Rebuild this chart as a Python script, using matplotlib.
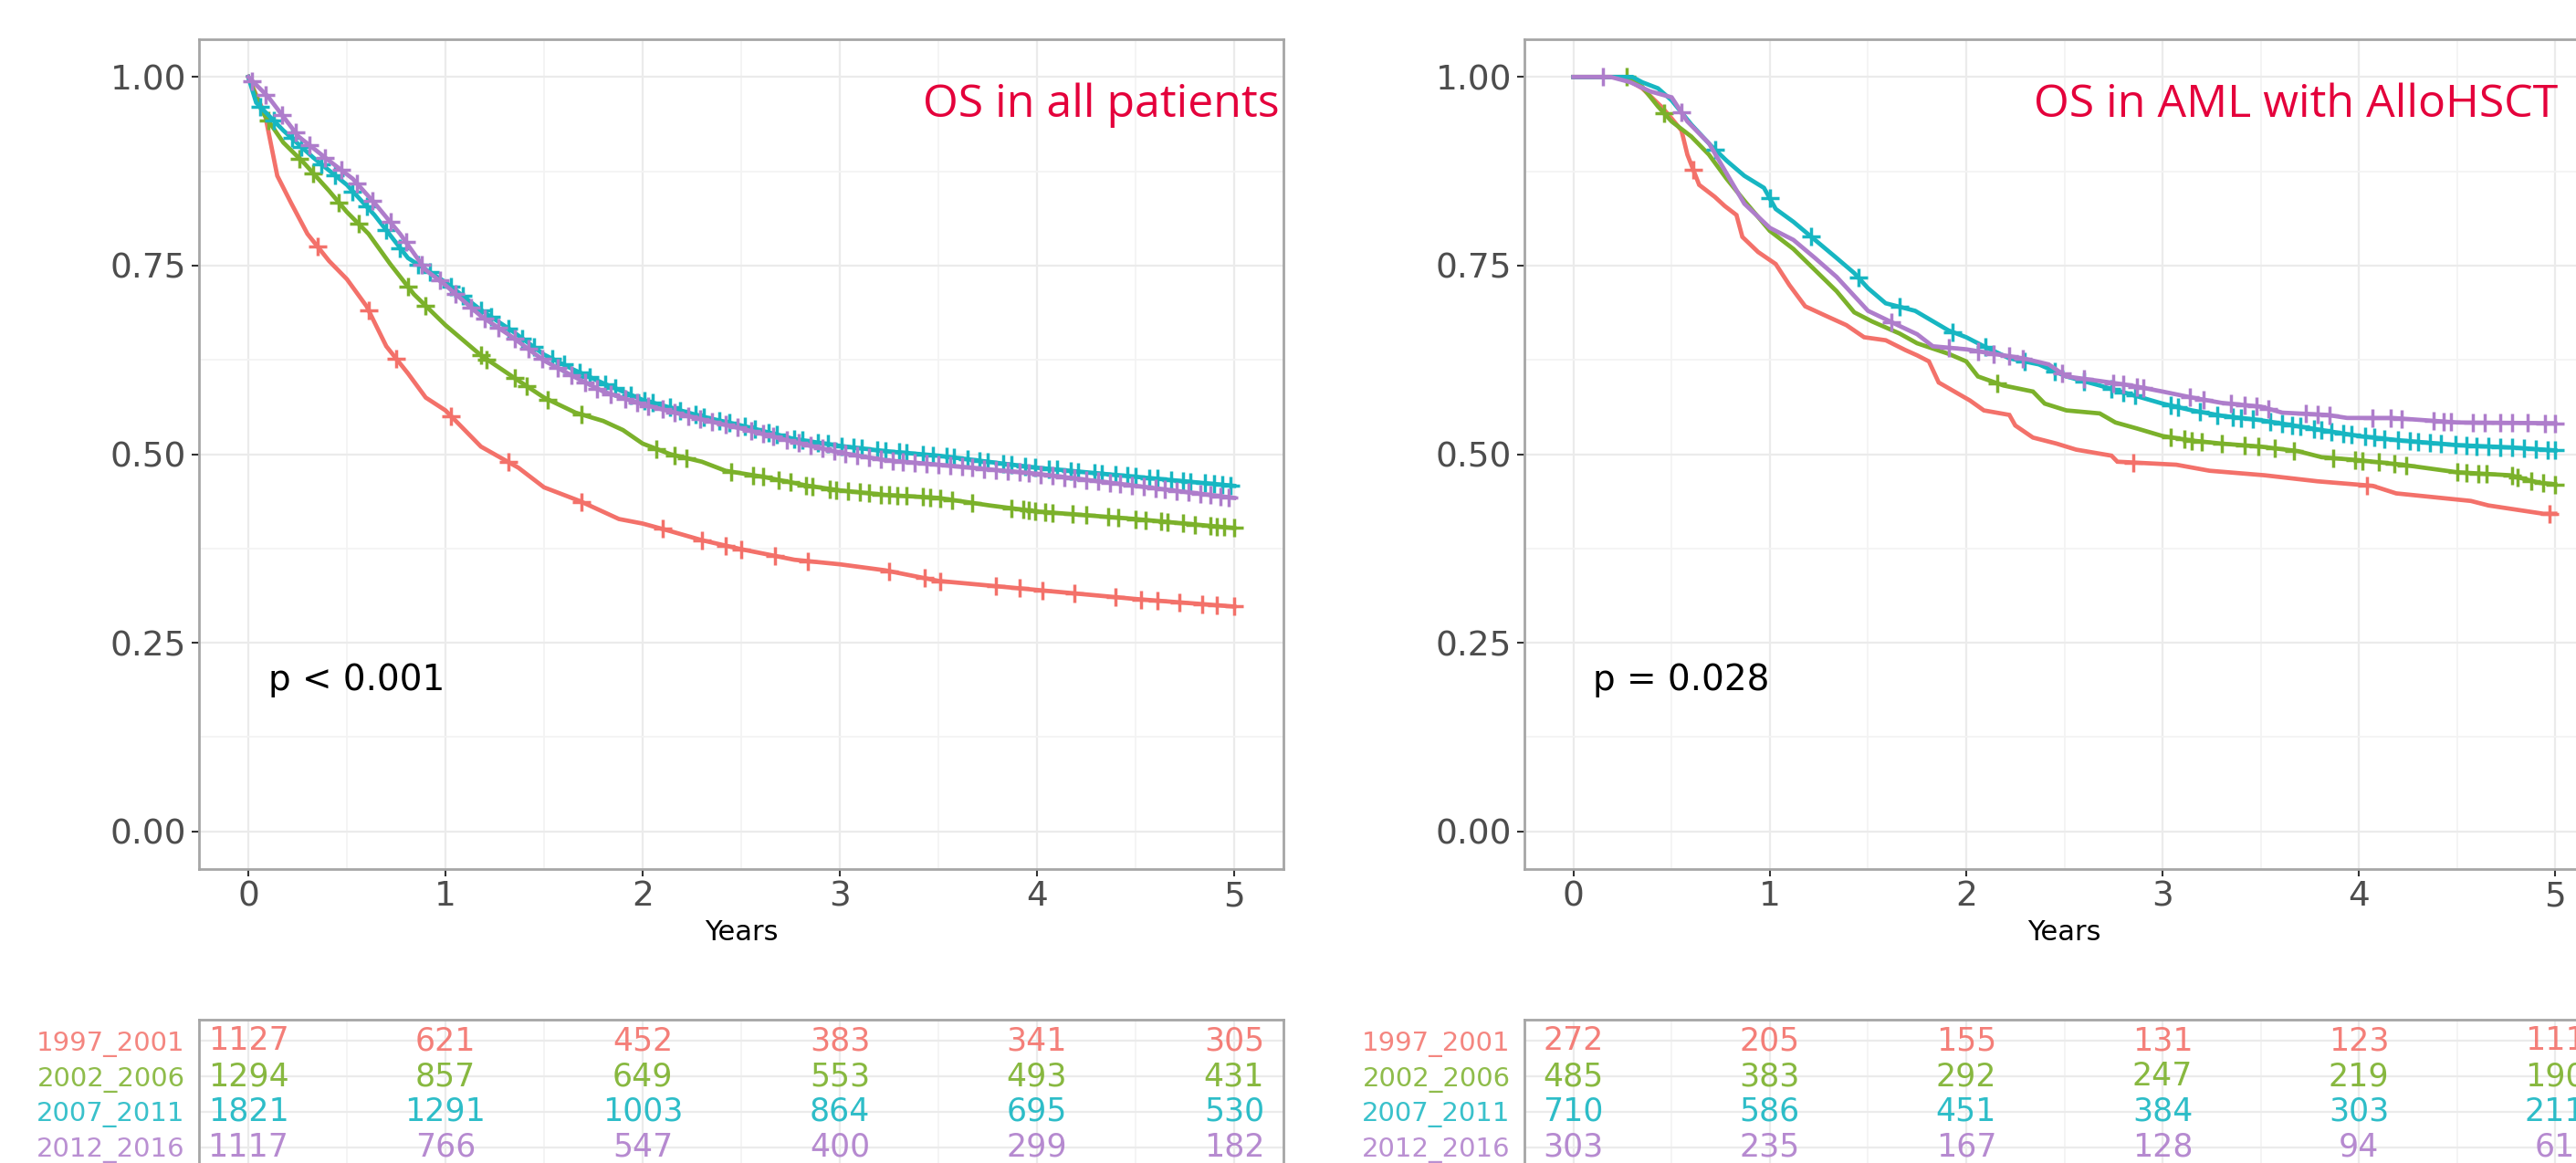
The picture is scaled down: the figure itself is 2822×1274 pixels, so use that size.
import numpy as np
import matplotlib
matplotlib.use("Agg")
import matplotlib.pyplot as plt

W, H = 2822, 1274

groups = ["1997_2001", "2002_2006", "2007_2011", "2012_2016"]
colors = ["#F3716A", "#7BB12B", "#17B6C2", "#AE7DCB"]

# ---- OS in all patients (left) ----
all_t = [
    [0, 0.085, 0.147, 0.217, 0.30, 0.41, 0.5, 0.6, 0.7, 0.81, 0.9, 1.0, 1.09, 1.18, 1.37, 1.5,
     1.68, 1.88, 2.0, 2.14, 2.3, 2.5, 2.77, 3.0, 3.23, 3.5, 4.0, 4.5, 5.0],
    [0, 0.07, 0.178, 0.286, 0.41, 0.5, 0.61, 0.72, 0.84, 1.0, 1.18, 1.35, 1.5, 1.66, 1.8, 1.9,
     2.0, 2.14, 2.3, 2.42, 2.61, 2.84, 3.0, 3.23, 3.5, 3.76, 4.0, 4.5, 5.0],
    [0, 0.04, 0.178, 0.33, 0.5, 0.64, 0.81, 1.0, 1.18, 1.34, 1.5, 1.65, 1.8, 2.0, 2.3, 2.5,
     2.77, 3.0, 3.23, 3.5, 4.0, 4.5, 5.0],
    [0, 0.1, 0.255, 0.41, 0.53, 0.64, 0.77, 0.9, 1.0, 1.18, 1.34, 1.5, 1.65, 1.8, 2.0, 2.3,
     2.5, 2.77, 3.0, 3.23, 3.5, 4.0, 4.5, 5.0],
]
all_s = [
    [1, 0.95, 0.869, 0.833, 0.792, 0.756, 0.732, 0.696, 0.643, 0.607, 0.575, 0.558, 0.534, 0.51,
     0.482, 0.456, 0.438, 0.414, 0.408, 0.398, 0.386, 0.374, 0.36, 0.354, 0.346, 0.332, 0.32,
     0.308, 0.298],
    [1, 0.954, 0.913, 0.885, 0.849, 0.821, 0.792, 0.752, 0.712, 0.671, 0.631, 0.601, 0.575,
     0.555, 0.544, 0.532, 0.514, 0.5, 0.49, 0.478, 0.47, 0.458, 0.452, 0.446, 0.442, 0.432,
     0.424, 0.414, 0.402],
    [1, 0.966, 0.929, 0.893, 0.857, 0.817, 0.76, 0.728, 0.691, 0.663, 0.632, 0.612, 0.594,
     0.572, 0.55, 0.538, 0.52, 0.511, 0.504, 0.498, 0.482, 0.47, 0.458],
    [1, 0.974, 0.921, 0.889, 0.865, 0.833, 0.792, 0.744, 0.724, 0.683, 0.655, 0.624, 0.603,
     0.583, 0.566, 0.546, 0.534, 0.516, 0.502, 0.492, 0.486, 0.474, 0.458, 0.442],
]
all_cens = [
    [0.35, 0.61, 0.75, 1.03, 1.32, 1.69, 2.1, 2.3, 2.42, 2.5, 2.67, 2.84, 3.25, 3.43, 3.51,
     3.79, 3.91, 4.03, 4.19, 4.4, 4.53, 4.61, 4.72, 4.84, 4.91, 5.0],
    [0.1, 0.26, 0.33, 0.46, 0.56, 0.81, 0.9, 1.18, 1.21, 1.35, 1.41, 1.52, 1.69, 2.07, 2.16,
     2.22, 2.45, 2.56, 2.61, 2.69, 2.75, 2.83, 2.86, 2.95, 2.98, 3.04, 3.1, 3.15, 3.21, 3.25,
     3.29, 3.34, 3.42, 3.46, 3.51, 3.57, 3.67, 3.87, 3.93, 3.96, 3.99, 4.04, 4.08, 4.18, 4.25,
     4.36, 4.41, 4.5, 4.55, 4.63, 4.66, 4.74, 4.8, 4.88, 4.91, 4.95, 5.0],
    [0.06, 0.13, 0.22, 0.27, 0.37, 0.44, 0.53, 0.6, 0.7, 0.77, 0.86, 0.92, 1.03, 1.09, 1.18,
     1.23, 1.32, 1.39, 1.45, 1.54, 1.6, 1.68, 1.73, 1.81, 1.86, 1.94, 2.01, 2.05, 2.14, 2.19,
     2.27, 2.31, 2.39, 2.44, 2.52, 2.57, 2.64, 2.68, 2.77, 2.81, 2.89, 2.94, 3.01, 3.07, 3.11,
     3.19, 3.23, 3.3, 3.34, 3.42, 3.47, 3.54, 3.58, 3.65, 3.71, 3.75, 3.83, 3.87, 3.94, 3.99,
     4.06, 4.1, 4.17, 4.21, 4.29, 4.33, 4.4, 4.46, 4.5, 4.57, 4.61, 4.68, 4.74, 4.78, 4.85,
     4.9, 4.94, 4.98],
    [0.02, 0.09, 0.17, 0.24, 0.31, 0.39, 0.47, 0.55, 0.63, 0.72, 0.8, 0.88, 0.97, 1.05, 1.13,
     1.2, 1.27, 1.35, 1.42, 1.49, 1.57, 1.64, 1.71, 1.77, 1.84, 1.91, 1.97, 2.03, 2.1, 2.16,
     2.23, 2.29, 2.35, 2.42, 2.48, 2.55, 2.61, 2.66, 2.73, 2.79, 2.85, 2.91, 2.97, 3.03, 3.09,
     3.15, 3.21, 3.27, 3.32, 3.38, 3.44, 3.5, 3.56, 3.62, 3.67, 3.73, 3.79, 3.85, 3.91, 3.96,
     4.02, 4.08, 4.14, 4.19, 4.25, 4.31, 4.37, 4.42, 4.48, 4.54, 4.6, 4.65, 4.71, 4.77, 4.83,
     4.88, 4.93, 4.97],
]
all_risk = [
    [1127, 621, 452, 383, 341, 305],
    [1294, 857, 649, 553, 493, 431],
    [1821, 1291, 1003, 864, 695, 530],
    [1117, 766, 547, 400, 299, 182],
]

# ---- OS in AML with AlloHSCT (right) ----
aml_t = [
    [0, 0.25, 0.35, 0.45, 0.5, 0.55, 0.58, 0.64, 0.72, 0.77, 0.83, 0.86, 0.94, 1.03, 1.1, 1.18,
     1.28, 1.39, 1.48, 1.59, 1.69, 1.75, 1.81, 1.86, 1.94, 2.02, 2.09, 2.22, 2.25, 2.34, 2.46,
     2.56, 2.74, 2.77, 3.07, 3.24, 3.52, 3.79, 4.07, 4.19, 4.57, 4.66, 4.94, 5.0],
    [0, 0.27, 0.35, 0.43, 0.5, 0.6, 0.69, 0.78, 0.87, 1.0, 1.12, 1.23, 1.34, 1.43, 1.52, 1.66,
     1.75, 1.91, 2.0, 2.06, 2.19, 2.34, 2.4, 2.51, 2.68, 2.76, 2.87, 3.0, 3.15, 3.3, 3.5, 3.69,
     3.81, 4.0, 4.22, 4.5, 4.77, 4.92, 5.0],
    [0, 0.3, 0.35, 0.43, 0.5, 0.6, 0.7, 0.78, 0.87, 0.97, 1.03, 1.12, 1.23, 1.34, 1.43, 1.5,
     1.59, 1.74, 1.91, 2.0, 2.09, 2.22, 2.37, 2.51, 2.68, 2.84, 3.0, 3.15, 3.3, 3.5, 3.76, 4.0,
     4.22, 4.5, 4.77, 5.0],
    [0, 0.19, 0.29, 0.39, 0.5, 0.58, 0.69, 0.78, 0.87, 1.0, 1.12, 1.23, 1.34, 1.5, 1.66, 1.75,
     1.83, 2.0, 2.14, 2.29, 2.42, 2.51, 2.68, 2.84, 3.0, 3.15, 3.3, 3.5, 3.61, 3.84, 3.94, 4.17,
     4.5, 5.0],
]
aml_s = [
    [1, 1, 0.985, 0.96, 0.945, 0.929, 0.897, 0.857, 0.841, 0.829, 0.817, 0.788, 0.768, 0.752,
     0.724, 0.696, 0.684, 0.671, 0.655, 0.651, 0.638, 0.631, 0.623, 0.595, 0.583, 0.571, 0.558,
     0.552, 0.538, 0.522, 0.514, 0.506, 0.498, 0.49, 0.486, 0.478, 0.472, 0.464, 0.458, 0.448,
     0.438, 0.432, 0.421, 0.421],
    [1, 1, 0.987, 0.961, 0.941, 0.921, 0.897, 0.865, 0.836, 0.796, 0.772, 0.744, 0.716, 0.688,
     0.676, 0.66, 0.647, 0.633, 0.623, 0.603, 0.591, 0.583, 0.567, 0.558, 0.554, 0.542, 0.534,
     0.524, 0.518, 0.514, 0.51, 0.504, 0.496, 0.492, 0.486, 0.476, 0.472, 0.462, 0.46],
    [1, 1, 0.993, 0.985, 0.969, 0.937, 0.909, 0.889, 0.869, 0.853, 0.825, 0.808, 0.784, 0.76,
     0.74, 0.72, 0.7, 0.69, 0.664, 0.655, 0.643, 0.627, 0.619, 0.603, 0.591, 0.579, 0.567,
     0.558, 0.551, 0.545, 0.534, 0.524, 0.518, 0.512, 0.509, 0.505],
    [1, 1, 0.993, 0.981, 0.973, 0.941, 0.912, 0.872, 0.832, 0.8, 0.784, 0.76, 0.735, 0.69,
     0.67, 0.659, 0.643, 0.639, 0.633, 0.627, 0.619, 0.603, 0.597, 0.591, 0.583, 0.575, 0.568,
     0.563, 0.555, 0.552, 0.548, 0.548, 0.542, 0.541],
]
aml_cens = [
    [0.61, 2.85, 4.04, 4.97],
    [0.27, 0.46, 2.16, 3.04, 3.11, 3.15, 3.2, 3.3, 3.42, 3.49, 3.57, 3.67, 3.87, 3.98, 4.02,
     4.1, 4.18, 4.24, 4.5, 4.55, 4.61, 4.65, 4.78, 4.81, 4.88, 4.94, 5.0],
    [0.72, 1.0, 1.21, 1.45, 1.66, 1.93, 2.1, 2.3, 2.45, 2.6, 2.74, 2.8, 2.86, 3.04, 3.08, 3.19,
     3.28, 3.36, 3.4, 3.46, 3.55, 3.61, 3.66, 3.7, 3.77, 3.81, 3.86, 3.92, 3.96, 4.03, 4.08,
     4.13, 4.2, 4.26, 4.3, 4.36, 4.42, 4.49, 4.55, 4.6, 4.66, 4.72, 4.78, 4.84, 4.9, 4.96, 5.0],
    [0.15, 0.55, 1.62, 1.91, 2.06, 2.14, 2.22, 2.29, 2.49, 2.6, 2.75, 2.8, 2.87, 2.9, 3.14,
     3.21, 3.35, 3.42, 3.48, 3.54, 3.73, 3.79, 3.85, 4.07, 4.16, 4.22, 4.38, 4.43, 4.47, 4.58,
     4.64, 4.72, 4.78, 4.86, 4.95, 5.0],
]
aml_risk = [
    [272, 205, 155, 131, 123, 111],
    [485, 383, 292, 247, 219, 190],
    [710, 586, 451, 384, 303, 211],
    [303, 235, 167, 128, 94, 61],
]

risk_times = [0, 1, 2, 3, 4, 5]
titles = ["OS in all patients", "OS in AML with AlloHSCT"]
pvals = ["p < 0.001", "p = 0.028"]


def rect(x0, y0, x1, y1):
    return [x0 / W, 1 - y1 / H, (x1 - x0) / W, (y1 - y0) / H]


fig = plt.figure(figsize=(W / 100, H / 100), dpi=100)
fig.patch.set_facecolor("white")

panels = [
    (all_t, all_s, all_cens, all_risk, 218, 1406),
    (aml_t, aml_s, aml_cens, aml_risk, 1670, 2853),
]

for i, (ts, ss, cens, risk, xl, xr) in enumerate(panels):
    ax = fig.add_axes(rect(xl, 43, xr, 952))
    ax.set_xlim(-0.25, 5.25)
    ax.set_ylim(-0.05, 1.05)
    ax.set_xticks(range(6))
    ax.set_xticks(np.arange(0.5, 5, 1), minor=True)
    ax.set_yticks([0, 0.25, 0.5, 0.75, 1.0])
    ax.set_yticklabels(["0.00", "0.25", "0.50", "0.75", "1.00"])
    ax.set_yticks([0.125, 0.375, 0.625, 0.875], minor=True)
    ax.grid(which="major", color="#EBEBEB", lw=1.6)
    ax.grid(which="minor", color="#F3F3F3", lw=1.3)
    ax.set_axisbelow(True)
    for sp in ax.spines.values():
        sp.set_color("#A6A6A6")
        sp.set_linewidth(2)
    ax.tick_params(axis="both", which="major", length=6, width=1.5, color="#333333",
                   labelcolor="#4D4D4D")
    ax.tick_params(axis="y", labelsize=27, pad=4)
    ax.tick_params(axis="x", labelsize=27, pad=3)
    ax.tick_params(which="minor", length=0)

    for g in range(4):
        t = np.array(ts[g])
        s = np.array(ss[g])
        ax.plot(t, s, color=colors[g], lw=3.4, solid_joinstyle="miter", zorder=3 + g)
        ct = np.array(cens[g])
        ax.plot(ct, np.interp(ct, t, s), ls="none", marker="+", ms=15, mew=2.5,
                color=colors[g], zorder=3 + g)

    ax.text(0.1, 0.2, pvals[i], fontsize=28, color="black", ha="left", va="center")
    ax.set_xlabel("Years", fontsize=22, color="black", labelpad=5)

    # risk table
    tb = fig.add_axes(rect(xl, 1117, xr, 1280))
    tb.set_xlim(-0.25, 5.25)
    tb.set_ylim(4.6, 0.4)
    tb.set_xticks(range(6))
    tb.set_xticks(np.arange(0.5, 5, 1), minor=True)
    tb.set_yticks([1, 2, 3, 4])
    tb.set_yticklabels(groups)
    for lab, c in zip(tb.get_yticklabels(), colors):
        lab.set_color(c)
        lab.set_alpha(0.85)
    tb.tick_params(axis="y", length=0, labelsize=21, pad=11)
    tb.tick_params(axis="x", length=0, labelbottom=False)
    tb.tick_params(which="minor", length=0)
    tb.grid(which="major", color="#EBEBEB", lw=1.6)
    tb.grid(which="minor", axis="x", color="#F3F3F3", lw=1.3)
    tb.set_axisbelow(True)
    for sp in tb.spines.values():
        sp.set_color("#A6A6A6")
        sp.set_linewidth(2)
    for g in range(4):
        for x, n in zip(risk_times, risk[g]):
            tb.text(x, g + 1, str(n), color=colors[g], fontsize=25, ha="center",
                    va="center", alpha=0.9)

# panel titles
fig.text(1402 / W, 1 - 128 / H, titles[0], fontsize=36, color="#E4003B", family="Open Sans",
         ha="right", va="baseline")
fig.text(2802 / W, 1 - 128 / H, titles[1], fontsize=36, color="#E4003B", family="Open Sans",
         ha="right", va="baseline")

fig.savefig("out.png", dpi=100, facecolor="white")
